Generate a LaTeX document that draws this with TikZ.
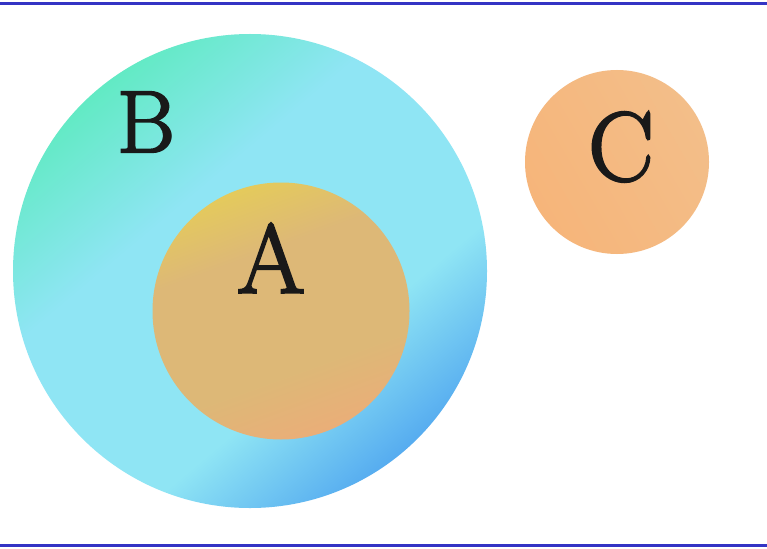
\documentclass[tikz,border=0pt]{standalone}
\usepackage{fontspec}
\setmainfont{Latin Modern Roman}[FakeBold=2.5]
\definecolor{frameblue}{HTML}{3434C4}
\definecolor{bTop}{HTML}{62EAC4}
\definecolor{bMid}{HTML}{8FE5F4}
\definecolor{bBot}{HTML}{56ACF0}
\definecolor{aTop}{HTML}{E4CA5C}
\definecolor{aMid}{HTML}{DDB877}
\definecolor{aBot}{HTML}{EAAE78}
\definecolor{cTop}{HTML}{F3BE89}
\definecolor{cBot}{HTML}{F6B57A}
\pgfdeclareverticalshading{bshade}{100bp}{color(0bp)=(bBot); color(25bp)=(bBot); color(38bp)=(bMid); color(60bp)=(bMid); color(75bp)=(bTop); color(100bp)=(bTop)}
\pgfdeclareverticalshading{ashade}{100bp}{color(0bp)=(aBot); color(25bp)=(aBot); color(38bp)=(aMid); color(62bp)=(aMid); color(75bp)=(aTop); color(100bp)=(aTop)}
\begin{document}
\begin{tikzpicture}[x=1pt,y=-1pt,
  setcircle/.style={circle,inner sep=0pt,draw=none},
  lbl/.style={inner sep=0pt,text=black!90}]
\useasboundingbox (0,0) rectangle (767,548);
\fill[white] (0,0) rectangle (767,548);
\coordinate (tl) at (0,3.5);
\coordinate (tr) at (767,3.5);
\coordinate (bl) at (0,545.5);
\coordinate (br) at (767,545.5);
\draw[frameblue,line width=3pt] (tl) -- (tr);
\draw[frameblue,line width=3pt] (bl) -- (br);
\node[setcircle,minimum size=474pt,shading=bshade,shading angle=40] (B) at (250,271) {};
\node[setcircle,minimum size=257pt,shading=ashade,shading angle=20] (A) at (281,311) {};
\node[setcircle,minimum size=184pt,top color=cTop,bottom color=cBot,shading angle=-60] (C) at (617,162) {};
\node[lbl,font=\fontsize{88}{88}\selectfont] (Bl) at (146,122) {B};
\node[lbl,font=\fontsize{98}{98}\selectfont] (Al) at (271,258) {A};
\node[lbl,font=\fontsize{98}{98}\selectfont] (Cl) at (621,147) {C};
\end{tikzpicture}
\end{document}
